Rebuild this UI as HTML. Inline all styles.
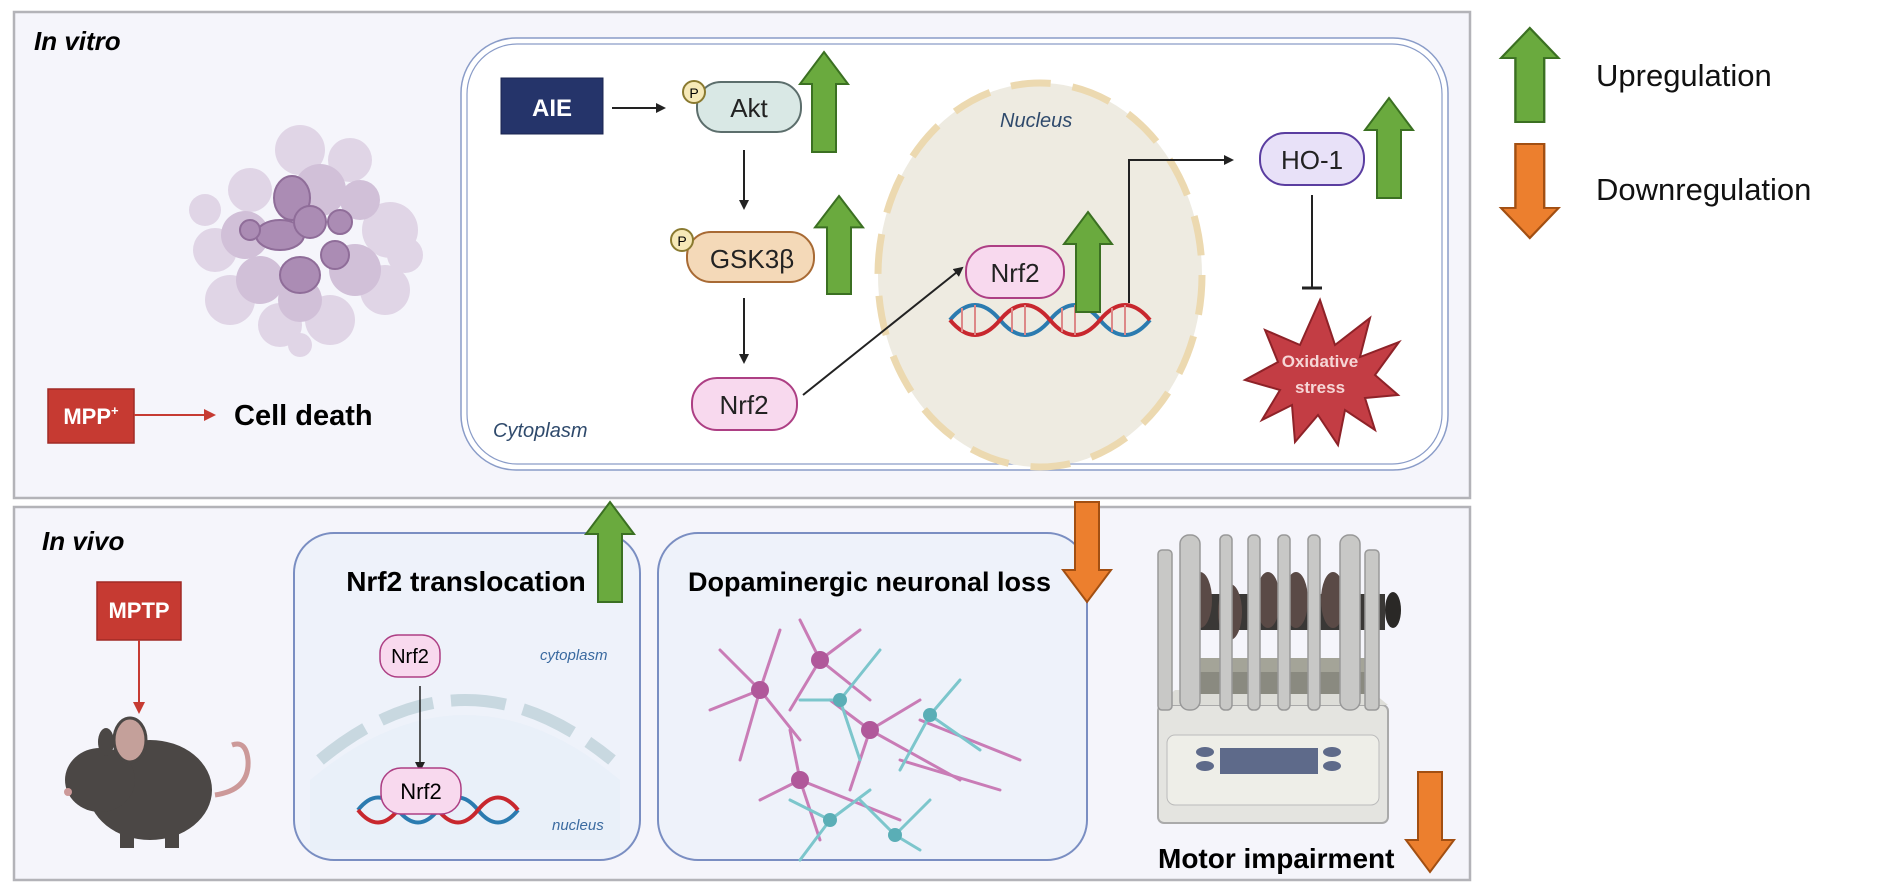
<!DOCTYPE html>
<html><head><meta charset="utf-8"><style>
html,body{margin:0;padding:0;background:#fff;}
svg{display:block;}
text{font-family:"Liberation Sans",sans-serif;}
</style></head><body>
<svg width="1877" height="894" viewBox="0 0 1877 894" xmlns="http://www.w3.org/2000/svg">
<defs>
<marker id="ah" markerWidth="10" markerHeight="10" refX="8" refY="5" orient="auto" markerUnits="userSpaceOnUse"><path d="M0,0 L10,5 L0,10 z" fill="#222"/></marker>
<marker id="ahr" markerWidth="12" markerHeight="12" refX="10" refY="6" orient="auto" markerUnits="userSpaceOnUse"><path d="M0,0 L12,6 L0,12 z" fill="#c63a32"/></marker>
<g id="up"><path d="M24,0 L48,32 L36,32 L36,100 L12,100 L12,32 L0,32 Z" fill="#6aaa3e" stroke="#3b7022" stroke-width="2"/></g>
<g id="down"><path d="M12,0 L36,0 L36,68 L48,68 L24,100 L0,68 L12,68 Z" fill="#ec7f2e" stroke="#a24f12" stroke-width="2"/></g>
</defs>

<rect x="14" y="12" width="1456" height="486" fill="#f5f5fb" stroke="#b3b3b8" stroke-width="2.5"/>
<rect x="14" y="507" width="1456" height="373" fill="#f5f5fb" stroke="#b3b3b8" stroke-width="2.5"/>

<text x="34" y="50" font-size="26" font-weight="bold" font-style="italic">In vitro</text>

<g opacity="0.85">
<g fill="#ddd0e3">
<circle cx="215" cy="250" r="22"/><circle cx="230" cy="300" r="25"/><circle cx="250" cy="190" r="22"/><circle cx="300" cy="150" r="25"/><circle cx="350" cy="160" r="22"/><circle cx="390" cy="230" r="28"/><circle cx="385" cy="290" r="25"/><circle cx="330" cy="320" r="25"/><circle cx="280" cy="325" r="22"/><circle cx="205" cy="210" r="16"/><circle cx="405" cy="255" r="18"/><circle cx="300" cy="345" r="12"/>
</g>
<g fill="#cbb7d3">
<circle cx="245" cy="235" r="24"/><circle cx="260" cy="280" r="24"/><circle cx="320" cy="190" r="26"/><circle cx="360" cy="200" r="20"/><circle cx="355" cy="270" r="26"/><circle cx="300" cy="300" r="22"/>
</g>
<g fill="#9f7aa8" stroke="#7e5688" stroke-width="2">
<ellipse cx="292" cy="198" rx="18" ry="22"/><ellipse cx="280" cy="235" rx="24" ry="15"/><circle cx="310" cy="222" r="16"/><ellipse cx="300" cy="275" rx="20" ry="18"/><circle cx="335" cy="255" r="14"/><circle cx="340" cy="222" r="12"/><circle cx="250" cy="230" r="10"/>
</g>
</g>

<rect x="48" y="389" width="86" height="54" fill="#c63a32" stroke="#a02a24" stroke-width="1.5"/>
<text x="91" y="424" font-size="22" font-weight="bold" fill="#fff" text-anchor="middle">MPP<tspan font-size="13" dy="-9">+</tspan></text>
<line x1="134" y1="415" x2="214" y2="415" stroke="#c63a32" stroke-width="2" marker-end="url(#ahr)"/>
<text x="234" y="425" font-size="29" font-weight="bold">Cell death</text>

<rect x="461" y="38" width="987" height="432" rx="55" fill="#fff" stroke="#8a9cc8" stroke-width="1.5"/>
<rect x="467" y="44" width="975" height="420" rx="50" fill="none" stroke="#8a9cc8" stroke-width="1.2"/>
<text x="493" y="437" font-size="20" font-style="italic" fill="#2f4a6c">Cytoplasm</text>

<ellipse cx="1040" cy="275" rx="162" ry="192" fill="#eeebe1" stroke="#ecd9b0" stroke-width="7" stroke-dasharray="40 22"/>
<text x="1000" y="127" font-size="20" font-style="italic" fill="#2f4a6c">Nucleus</text>

<rect x="501" y="78" width="102" height="56" fill="#25346a" stroke="#1a2450"/>
<text x="552" y="116" font-size="24" font-weight="bold" fill="#fff" text-anchor="middle">AIE</text>
<line x1="612" y1="108" x2="664" y2="108" stroke="#222" stroke-width="2" marker-end="url(#ah)"/>

<rect x="697" y="82" width="104" height="50" rx="24" fill="#d9e8e5" stroke="#5c6e6c" stroke-width="2"/>
<text x="749" y="117" font-size="26" text-anchor="middle" fill="#222">Akt</text>
<circle cx="694" cy="92" r="11" fill="#f6e9b8" stroke="#8a7a30" stroke-width="2"/>
<text x="694" y="98" font-size="14" text-anchor="middle">P</text>
<use href="#up" x="800" y="52"/>
<line x1="744" y1="150" x2="744" y2="208" stroke="#222" stroke-width="2" marker-end="url(#ah)"/>

<rect x="687" y="232" width="127" height="50" rx="24" fill="#f4d9b8" stroke="#a86a34" stroke-width="2"/>
<text x="752" y="268" font-size="26" text-anchor="middle" fill="#222">GSK3β</text>
<circle cx="682" cy="240" r="11" fill="#f6e9b8" stroke="#8a7a30" stroke-width="2"/>
<text x="682" y="246" font-size="14" text-anchor="middle">P</text>
<g transform="translate(815,196) scale(1,0.98)"><use href="#up"/></g>
<line x1="744" y1="298" x2="744" y2="362" stroke="#222" stroke-width="2" marker-end="url(#ah)"/>

<rect x="692" y="378" width="105" height="52" rx="25" fill="#f8d9ee" stroke="#ad3f84" stroke-width="2"/>
<text x="744" y="414" font-size="26" text-anchor="middle" fill="#222">Nrf2</text>
<line x1="803" y1="395" x2="962" y2="268" stroke="#222" stroke-width="2" marker-end="url(#ah)"/>

<g stroke-width="4" fill="none">
<path d="M950,320 Q975,290 1000,320 T1050,320 T1100,320 T1150,320" stroke="#2b7bb0"/>
<path d="M950,320 Q975,350 1000,320 T1050,320 T1100,320 T1150,320" stroke="#c8272e"/>
</g>
<g stroke="#d88" stroke-width="2">
<line x1="962" y1="308" x2="962" y2="332"/><line x1="975" y1="305" x2="975" y2="335"/><line x1="1012" y1="308" x2="1012" y2="332"/><line x1="1025" y1="305" x2="1025" y2="335"/><line x1="1062" y1="308" x2="1062" y2="332"/><line x1="1075" y1="305" x2="1075" y2="335"/><line x1="1112" y1="308" x2="1112" y2="332"/><line x1="1125" y1="305" x2="1125" y2="335"/>
</g>
<rect x="966" y="246" width="98" height="52" rx="25" fill="#f8d9ee" stroke="#ad3f84" stroke-width="2"/>
<text x="1015" y="282" font-size="26" text-anchor="middle" fill="#222">Nrf2</text>
<use href="#up" x="1064" y="212"/>

<polyline points="1129,303 1129,160 1232,160" fill="none" stroke="#222" stroke-width="2" marker-end="url(#ah)"/>

<rect x="1260" y="133" width="104" height="52" rx="25" fill="#e8e1f8" stroke="#5a3da0" stroke-width="2"/>
<text x="1312" y="169" font-size="26" text-anchor="middle" fill="#222">HO-1</text>
<use href="#up" x="1365" y="98"/>
<line x1="1312" y1="195" x2="1312" y2="288" stroke="#222" stroke-width="2"/>
<line x1="1302" y1="288" x2="1322" y2="288" stroke="#222" stroke-width="3"/>

<polygon points="1320,300 1335,345 1370,318 1360,357 1399,342 1375,375 1398,395 1365,398 1375,430 1345,410 1338,445 1318,415 1295,442 1292,405 1262,420 1280,390 1245,380 1278,362 1265,330 1300,345" fill="#c33d44" stroke="#8e2228" stroke-width="2"/>
<text x="1320" y="367" font-size="17" font-weight="bold" fill="#f6d6d6" text-anchor="middle">Oxidative</text>
<text x="1320" y="393" font-size="17" font-weight="bold" fill="#f6d6d6" text-anchor="middle">stress</text>

<g transform="translate(1501,28) scale(1.2,0.94)"><use href="#up"/></g>
<text x="1596" y="86" font-size="31" fill="#111">Upregulation</text>
<g transform="translate(1501,144) scale(1.2,0.94)"><use href="#down"/></g>
<text x="1596" y="200" font-size="31" fill="#111">Downregulation</text>

<text x="42" y="550" font-size="26" font-weight="bold" font-style="italic">In vivo</text>
<rect x="97" y="582" width="84" height="58" fill="#c63a32" stroke="#a02a24" stroke-width="1.5"/>
<text x="139" y="618" font-size="22" font-weight="bold" fill="#fff" text-anchor="middle">MPTP</text>
<line x1="139" y1="640" x2="139" y2="712" stroke="#c63a32" stroke-width="2" marker-end="url(#ahr)"/>

<g>
<path d="M215,795 Q250,790 248,760 Q246,740 232,745" fill="none" stroke="#c99" stroke-width="5"/>
<ellipse cx="150" cy="790" rx="62" ry="50" fill="#4b4745"/>
<ellipse cx="100" cy="780" rx="35" ry="32" fill="#4b4745"/>
<ellipse cx="130" cy="740" rx="16" ry="22" fill="#c4a09a" stroke="#4b4745" stroke-width="3"/>
<ellipse cx="106" cy="742" rx="8" ry="14" fill="#4b4745"/>
<rect x="120" y="820" width="14" height="28" fill="#4b4745"/>
<rect x="165" y="820" width="14" height="28" fill="#4b4745"/>
<circle cx="68" cy="792" r="4" fill="#c99"/>
</g>

<rect x="294" y="533" width="346" height="327" rx="40" fill="#eef2fa" stroke="#7a8ec2" stroke-width="2"/>
<text x="466" y="591" font-size="28" font-weight="bold" text-anchor="middle">Nrf2 translocation</text>
<use href="#up" x="586" y="502"/>
<path d="M320,760 Q465,640 612,760" fill="none" stroke="#c8d8e0" stroke-width="12" stroke-dasharray="55 18"/>
<path d="M310,780 Q465,650 620,780 L620,850 L310,850 Z" fill="#e6eef8" opacity="0.6"/>
<rect x="380" y="635" width="60" height="42" rx="18" fill="#f8d9ee" stroke="#ad3f84" stroke-width="1.5"/>
<text x="410" y="663" font-size="20" text-anchor="middle">Nrf2</text>
<text x="540" y="660" font-size="15" font-style="italic" fill="#3a6aa0">cytoplasm</text>
<line x1="420" y1="686" x2="420" y2="770" stroke="#222" stroke-width="1.5" marker-end="url(#ah)"/>
<g stroke-width="4" fill="none">
<path d="M358,810 Q378,785 398,810 T438,810 T478,810 T518,810" stroke="#2b7bb0"/>
<path d="M358,810 Q378,835 398,810 T438,810 T478,810 T518,810" stroke="#c8272e"/>
</g>
<rect x="381" y="768" width="80" height="46" rx="20" fill="#f8d9ee" stroke="#ad3f84" stroke-width="1.5"/>
<text x="421" y="799" font-size="22" text-anchor="middle">Nrf2</text>
<text x="552" y="830" font-size="15" font-style="italic" fill="#3a6aa0">nucleus</text>

<rect x="658" y="533" width="429" height="327" rx="40" fill="#eef2fa" stroke="#7a8ec2" stroke-width="2"/>
<text x="688" y="591" font-size="27" font-weight="bold">Dopaminergic neuronal loss</text>
<use href="#down" x="1063" y="502"/>
<g stroke-width="3" fill="none" stroke-linecap="round">
<g stroke="#c97cb6">
<path d="M760,690 L720,650 M760,690 L710,710 M760,690 L780,630 M760,690 L800,740 M760,690 L740,760"/>
<path d="M820,660 L800,620 M820,660 L860,630 M820,660 L870,700 M820,660 L790,710"/>
<path d="M870,730 L830,700 M870,730 L920,700 M870,730 L960,780 M870,730 L850,790"/>
<path d="M800,780 L760,800 M800,780 L820,840 M800,780 L900,820 M800,780 L790,730"/>
<path d="M900,760 L1000,790 M920,720 L1020,760"/>
</g>
<g stroke="#7cc6cc">
<path d="M840,700 L880,650 M840,700 L800,700 M840,700 L860,760"/>
<path d="M930,715 L960,680 M930,715 L980,750 M930,715 L900,770"/>
<path d="M830,820 L800,860 M830,820 L870,790 M830,820 L790,800"/>
<path d="M895,835 L930,800 M895,835 L920,850 M895,835 L860,800"/>
</g>
</g>
<g fill="#b0589a"><circle cx="760" cy="690" r="9"/><circle cx="820" cy="660" r="9"/><circle cx="870" cy="730" r="9"/><circle cx="800" cy="780" r="9"/></g>
<g fill="#5aaeb6"><circle cx="840" cy="700" r="7"/><circle cx="930" cy="715" r="7"/><circle cx="830" cy="820" r="7"/><circle cx="895" cy="835" r="7"/></g>

<g>
<rect x="1158" y="705" width="230" height="118" rx="6" fill="#e4e4e0" stroke="#aaa" stroke-width="2"/>
<rect x="1167" y="735" width="212" height="70" rx="8" fill="#eeeee8" stroke="#bbb"/>
<rect x="1220" y="748" width="98" height="26" fill="#5e6a8a"/>
<g fill="#5e6a8a"><ellipse cx="1205" cy="752" rx="9" ry="5"/><ellipse cx="1205" cy="766" rx="9" ry="5"/><ellipse cx="1332" cy="752" rx="9" ry="5"/><ellipse cx="1332" cy="766" rx="9" ry="5"/></g>
<path d="M1158,705 L1175,690 L1370,690 L1388,705 Z" fill="#ddddd8"/>
<rect x="1180" y="658" width="190" height="36" fill="#8a8a80"/>
<rect x="1180" y="658" width="190" height="14" fill="#a4a498"/>
<rect x="1185" y="594" width="200" height="36" fill="#3a3836"/>
<ellipse cx="1393" cy="610" rx="8" ry="18" fill="#2a2826"/>
<g fill="#5a4a46"><ellipse cx="1200" cy="600" rx="12" ry="28"/><ellipse cx="1230" cy="612" rx="12" ry="28"/><ellipse cx="1268" cy="600" rx="12" ry="28"/><ellipse cx="1296" cy="600" rx="12" ry="28"/><ellipse cx="1333" cy="600" rx="12" ry="28"/></g>
<g fill="#c8c8c6" stroke="#999" stroke-width="1.5">
<rect x="1158" y="550" width="14" height="160" rx="4"/><rect x="1180" y="535" width="20" height="175" rx="9"/><rect x="1220" y="535" width="12" height="175" rx="5"/><rect x="1248" y="535" width="12" height="175" rx="5"/><rect x="1278" y="535" width="12" height="175" rx="5"/><rect x="1308" y="535" width="12" height="175" rx="5"/><rect x="1340" y="535" width="20" height="175" rx="9"/><rect x="1365" y="550" width="14" height="160" rx="4"/>
</g>
</g>
<text x="1158" y="868" font-size="28" font-weight="bold">Motor impairment</text>
<use href="#down" x="1406" y="772"/>
</svg>
</body></html>
